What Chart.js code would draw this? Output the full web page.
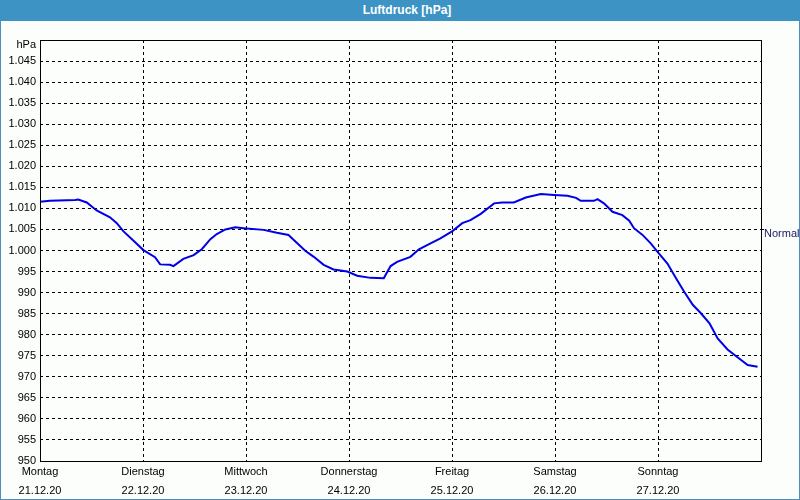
<!DOCTYPE html>
<html><head><meta charset="utf-8">
<script src="https://cdn.jsdelivr.net/npm/chart.js@4/dist/chart.umd.min.js"></script>
<style>
html,body{margin:0;padding:0;}
body{width:800px;height:500px;overflow:hidden;background:#fbfefb;position:relative;font-family:"Liberation Sans",Arial,sans-serif;}
#frame{position:absolute;left:0;top:0;width:798px;height:499px;border:1px solid #4b8ec2;border-top:none;pointer-events:none;z-index:2}
#title{position:absolute;left:0;top:0;width:800px;height:21px;background:#3d93c3;color:#fff;font:bold 12px "Liberation Sans",Arial,sans-serif;line-height:21px;text-align:center;z-index:3;text-indent:14px}
canvas{position:absolute;left:0;top:0}
</style></head>
<body>
<div id="title">Luftdruck [hPa]</div>
<div id="frame"></div>
<canvas id="c" width="800" height="500"></canvas>
<script>
// hours since Monday 21.12.20 00:00
const hours = [0, 2.3, 8.2, 8.9, 10.9, 13.2, 16.3, 17.9, 19.4, 21.8, 24.1, 26.8, 28.0, 30.3, 31.1, 33.4, 35.8, 37.7, 39.7, 41.2, 43.2, 45.5, 47.4, 52.1, 55.2, 57.9, 61.8, 63.8, 66.1, 68.4, 71.6, 73.9, 77.0, 80.1, 81.7, 83.2, 86.3, 88.3, 91.0, 93.3, 96.1, 98.4, 100.3, 102.7, 105.8, 107.7, 110.4, 113.2, 116.7, 119.8, 122.9, 124.9, 126.0, 129.1, 129.9, 131.4, 133.4, 135.7, 137.3, 138.4, 140.4, 142.3, 143.9, 146.2, 148.2, 150.1, 152.1, 154.0, 156.0, 157.9, 160.2, 162.6, 164.9, 167.2];
const pressure = [1011.6, 1011.8, 1012.0, 1012.1, 1011.4, 1009.5, 1007.9, 1006.5, 1004.6, 1002.3, 1000.1, 998.4, 996.7, 996.6, 996.3, 998.0, 998.9, 1000.3, 1002.7, 1003.9, 1005.0, 1005.5, 1005.3, 1004.9, 1004.2, 1003.7, 999.95, 998.5, 996.6, 995.5, 995.0, 994.0, 993.5, 993.4, 996.3, 997.3, 998.5, 1000.3, 1001.7, 1002.9, 1004.6, 1006.5, 1007.2, 1008.7, 1011.2, 1011.4, 1011.4, 1012.6, 1013.4, 1013.2, 1013.0, 1012.5, 1011.8, 1011.8, 1012.2, 1011.2, 1009.2, 1008.4, 1007.1, 1005.3, 1003.7, 1001.7, 999.7, 996.9, 993.4, 990.2, 987.1, 985.1, 982.7, 979.1, 976.5, 974.6, 972.8, 972.4];
const dayNames = ['Montag', 'Dienstag', 'Mittwoch', 'Donnerstag', 'Freitag', 'Samstag', 'Sonntag'];
const dayDates = ['21.12.20', '22.12.20', '23.12.20', '24.12.20', '25.12.20', '26.12.20', '27.12.20'];
const yMin = 950, yMax = 1050, yStep = 5;
const normalLevel = 1005;
const normalLabel = 'Normal';
const unitLabel = 'hPa';

function fmt(v){
  if (v >= 1000) return Math.floor(v/1000) + '.' + String(v % 1000).padStart(3, '0');
  return String(v);
}
const fam = '"Liberation Sans", Arial, sans-serif';

new Chart(document.getElementById('c'), {
  type: 'line',
  data: { datasets: [{
    data: hours.map((h, i) => ({x: h, y: pressure[i]})),
    borderColor: '#0000e6', borderWidth: 2, pointRadius: 0, tension: 0, fill: false
  }]},
  options: {
    responsive: false, animation: false,
    layout: { padding: { top: 40, left: 0, right: 0, bottom: 0 } },
    plugins: { legend: {display: false}, tooltip: {enabled: false}, title: {display: false} },
    scales: {
      x: {
        type: 'linear', min: 0, max: dayNames.length * 24,
        ticks: {
          stepSize: 24, autoSkip: false, maxRotation: 0, padding: 1, color: '#000',
          font: {family: fam, size: 11, lineHeight: '19px'},
          callback: (v) => { const i = Math.round(v / 24); return i < dayNames.length ? [dayNames[i], dayDates[i]] : ''; }
        },
        grid: { color: '#000', lineWidth: 1, drawTicks: false },
        border: { display: false, dash: [3, 3] },
        afterFit: s => { s.height = 39; }
      },
      y: {
        min: yMin, max: yMax,
        ticks: {
          stepSize: yStep, autoSkip: false, padding: 4, color: '#000',
          font: {family: fam, size: 11, lineHeight: 0.9},
          callback: v => v === yMax ? ['', unitLabel] : fmt(v)
        },
        grid: { color: '#000', lineWidth: 1, drawTicks: false },
        border: { display: false, dash: [3, 3] },
        afterFit: s => { s.width = 40; }
      },
      y2: {
        position: 'right', min: yMin, max: yMax,
        afterBuildTicks: s => { s.ticks = [{value: normalLevel}]; },
        ticks: { callback: () => ['', normalLabel], padding: 0, color: '#1a1a5e', font: {family: fam, size: 11, lineHeight: 0.8} },
        grid: { drawOnChartArea: false, drawTicks: true, tickLength: 3, color: '#000' },
        border: { display: false },
        afterFit: s => { s.width = 39; }
      }
    }
  },
  plugins: [{
    id: 'box',
    afterDraw(c) {
      const a = c.chartArea, g = c.ctx;
      g.save();
      g.strokeStyle = '#000'; g.lineWidth = 1;
      g.strokeRect(Math.round(a.left) + 0.5, Math.round(a.top) + 0.5, Math.round(a.right - a.left), Math.round(a.bottom - a.top));
      g.restore();
    }
  }]
});
</script>
</body></html>
